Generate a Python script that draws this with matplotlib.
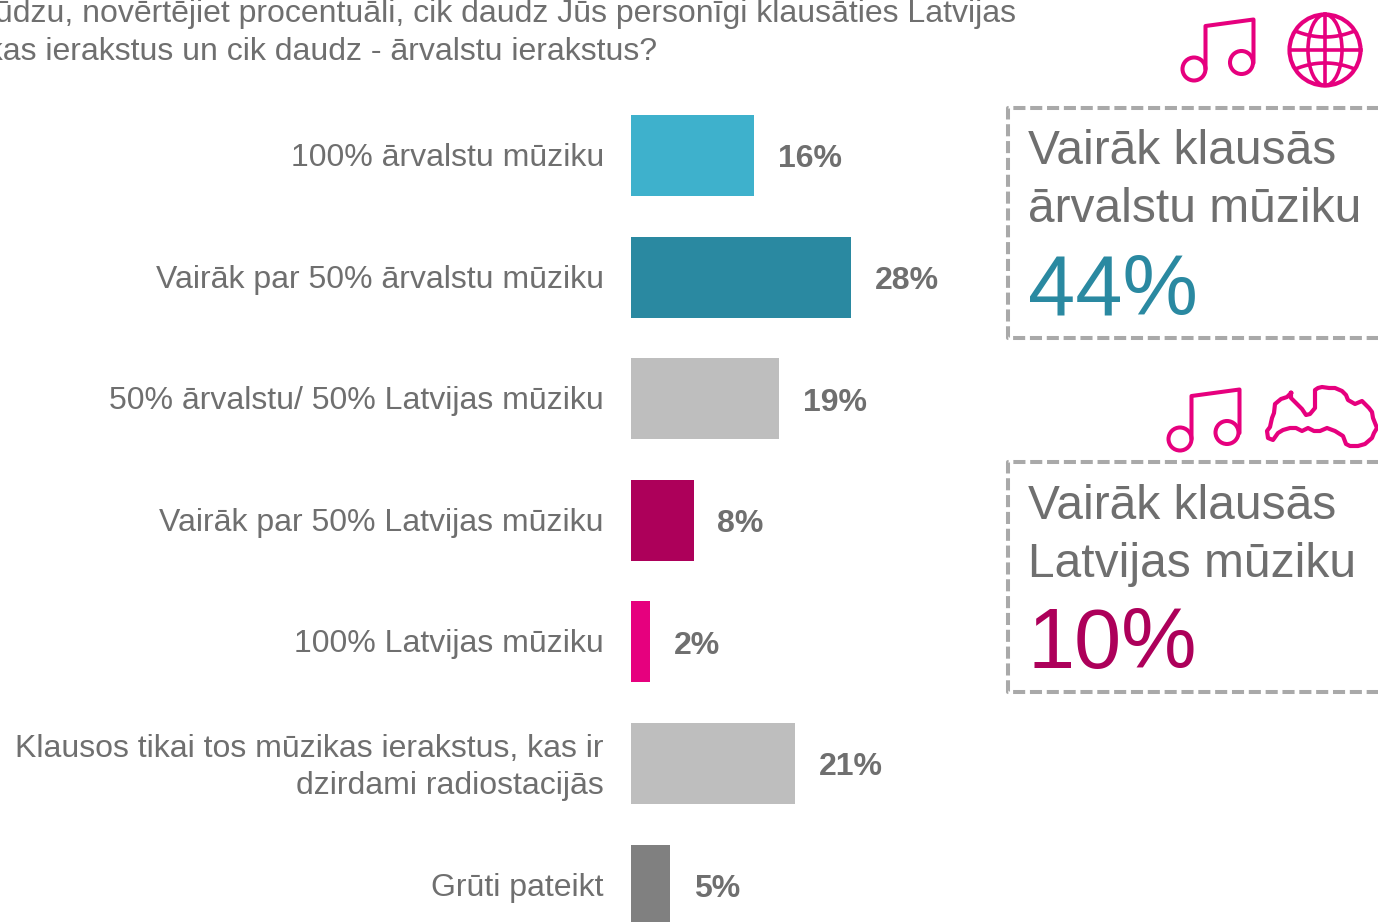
import matplotlib
matplotlib.use("Agg")
import matplotlib.pyplot as plt
from matplotlib.patches import Circle, Ellipse
from matplotlib.transforms import ScaledTranslation
import numpy as np

W, H = 1378, 922
plt.rcParams['font.family'] = ['Liberation Sans', 'DejaVu Sans']

GREY_TXT = "#6f6f6f"
PINK = "#e6007e"
DASH = "#a9a9a9"

categories = [
    "100% ārvalstu mūziku",
    "Vairāk par 50% ārvalstu mūziku",
    "50% ārvalstu/ 50% Latvijas mūziku",
    "Vairāk par 50% Latvijas mūziku",
    "100% Latvijas mūziku",
    "Klausos tikai tos mūzikas ierakstus, kas ir\ndzirdami radiostacijās",
    "Grūti pateikt",
]
values = [15.7, 28.0, 18.9, 8.0, 2.4, 20.9, 5.0]
value_labels = ["16%", "28%", "19%", "8%", "2%", "21%", "5%"]
colors = ["#3eb1cc", "#2a89a1", "#bebebe", "#ad005a", "#e6007e", "#bebebe", "#808080"]

title_lines = ["Lūdzu, novērtējiet procentuāli, cik daudz Jūs personīgi klausāties Latvijas",
               "mūzikas ierakstus un cik daudz - ārvalstu ierakstus?"]

# Latvijas kontūra ikonai (pikseļos)
latvia_x = [1291, 1291, 1296, 1302, 1306, 1310, 1315, 1315, 1318, 1322, 1329, 1335, 1342, 1346,
            1348, 1355, 1362, 1366, 1369, 1372, 1373, 1377, 1374, 1372, 1365, 1358, 1350, 1346,
            1343, 1335, 1327, 1320, 1314, 1308, 1302, 1296, 1290, 1283, 1278, 1273,
            1268, 1267, 1270, 1272, 1274, 1275, 1281, 1287, 1291]
latvia_y = [393, 398, 403, 409, 415, 414, 408, 390, 388, 387, 388, 388, 391, 395,
            400, 404, 401, 405, 408, 412, 418, 428, 433, 438, 444, 446, 446, 444,
            436, 431, 428, 431, 431, 428, 431, 428, 428, 430, 433, 440,
            438, 431, 427, 418, 413, 404, 399, 397, 393]

fig = plt.figure(figsize=(W / 100, H / 100), dpi=100, facecolor="w")

# joslas
ax = fig.add_axes([631 / W, 0, (W - 631) / W, 1])
y = np.arange(len(categories))
ax.barh(y, values, height=0.666, color=colors)
ax.set_xlim(0, (W - 631) / 7.85)
ax.set_ylim(6.303, -1.279)
ax.set_yticks(y)
ax.set_yticklabels(categories, fontsize=23, color=GREY_TXT, linespacing=1.27)
ax.tick_params(axis="y", length=0, pad=19.5)
ax.set_xticks([])
for s in ax.spines.values():
    s.set_visible(False)
ax.patch.set_alpha(0)

# nedaudz uz augšu, kā oriģinālā
for lbl in ax.get_yticklabels():
    up = 1.9 if "\n" in lbl.get_text() else 0.8
    lbl.set_transform(lbl.get_transform() + ScaledTranslation(0, up / 72, fig.dpi_scale_trans))

for i, v in enumerate(values):
    ax.annotate(value_labels[i], (v, i), xytext=(17, -2.8), textcoords="offset points",
                va="center", ha="left", fontsize=23, fontweight="bold", color=GREY_TXT)

# teksti un ikonas pikseļu koordinātās
ov = fig.add_axes([0, 0, 1, 1])
ov.set_xlim(0, W)
ov.set_ylim(H, 0)
ov.axis("off")
ov.patch.set_alpha(0)

ov.text(1016, 14, title_lines[0], ha="right", va="center", fontsize=23, color=GREY_TXT)
ov.text(657, 52, title_lines[1], ha="right", va="center", fontsize=23, color=GREY_TXT)


def box(top, bottom):
    ov.plot([W + 10, 1008, 1008, W + 10], [top, top, bottom, bottom], color=DASH, lw=2.9,
            linestyle=(0, (3.0, 1.18)), dash_capstyle="butt")


box(108, 338)
box(462, 692)

ov.text(1028, 152, "Vairāk klausās", fontsize=34.5, color=GREY_TXT, va="center", ha="left")
ov.text(1028, 209, "ārvalstu mūziku", fontsize=34.5, color=GREY_TXT, va="center", ha="left")
ov.text(1028, 292, "44%", fontsize=61, color="#2a89a1", va="center", ha="left")
ov.text(1028, 506, "Vairāk klausās", fontsize=34.5, color=GREY_TXT, va="center", ha="left")
ov.text(1028, 564, "Latvijas mūziku", fontsize=34.5, color=GREY_TXT, va="center", ha="left")
ov.text(1028, 646, "10%", fontsize=61, color="#ad005a", va="center", ha="left")


def note(x1, y1, x2, y2, sx1, sx2, ty1, ty2, by1, by2):
    for cx, cy in [(x1, y1), (x2, y2)]:
        ov.add_patch(Circle((cx, cy), 11.5, fc="none", ec=PINK, lw=2.9))
    ov.plot([sx1, sx1, sx2, sx2], [by1, ty1, ty2, by2], color=PINK, lw=2.9,
            solid_joinstyle="round", solid_capstyle="round")


note(1194, 69, 1241.5, 62.5, 1205.5, 1253.5, 26, 19.5, 69, 63)
note(1180, 439, 1227, 432.5, 1191.5, 1239.5, 396, 389.5, 439, 433)

# globuss
gx, gy, gr = 1325, 50, 35.5
ov.add_patch(Circle((gx, gy), gr, fc="none", ec=PINK, lw=3.0))
ov.add_patch(Ellipse((gx, gy), 34, 2 * gr, fc="none", ec=PINK, lw=2.6))
ov.plot([gx, gx], [gy - gr, gy + gr], color=PINK, lw=2.6)
ov.plot([gx - gr, gx + gr], [gy, gy], color=PINK, lw=2.6)
arc_x = np.linspace(-27, 27, 41)
arc_y = 18 - 5 * (1 - (arc_x / 27) ** 2)
ov.plot(gx + arc_x, gy - arc_y, color=PINK, lw=2.6)
ov.plot(gx + arc_x, gy + arc_y, color=PINK, lw=2.6)

ov.plot(latvia_x, latvia_y, color=PINK, lw=3.0, solid_joinstyle="round")

fig.savefig("out.png", dpi=100)
